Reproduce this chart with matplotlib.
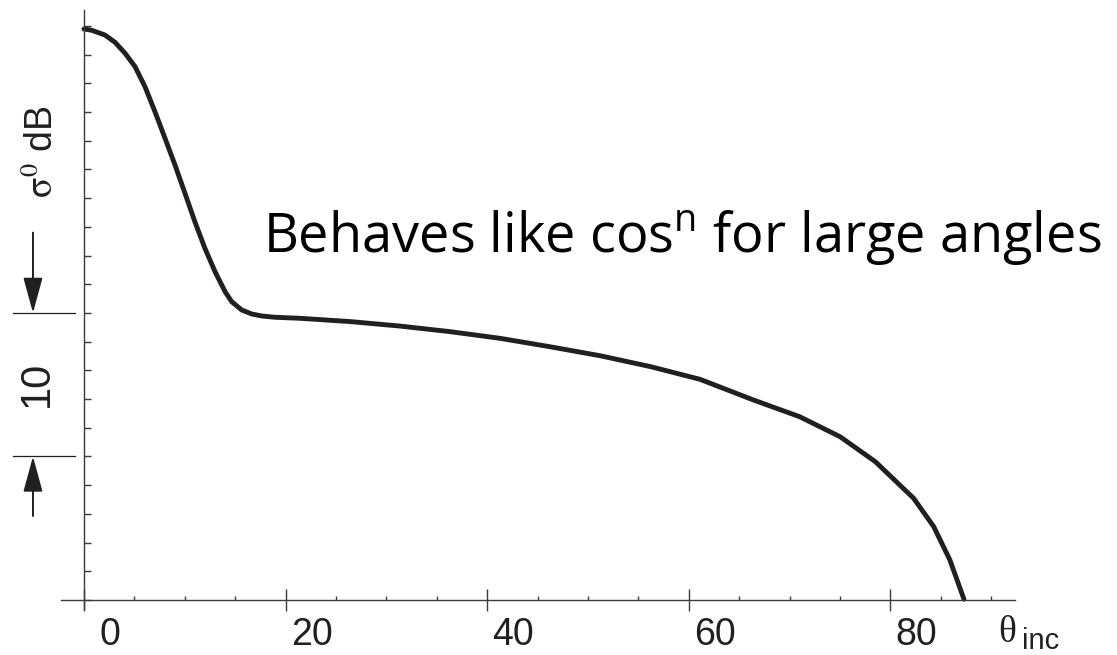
import numpy as np
import matplotlib
matplotlib.use('Agg')
import matplotlib.pyplot as plt
from matplotlib.ticker import MultipleLocator
from matplotlib.transforms import ScaledTranslation

# values (incidence angle in degrees, sigma0 in dB above axis)
theta = [0, 0.76, 2.08, 3.08, 4.07, 5.06, 6.05, 7.04, 8.04, 9.03, 10.02, 11.0, 12.0, 13.0,
         14.0, 14.65, 15.64, 16.64, 17.63, 18.95, 21.4, 26.4, 31.3, 36.3, 41.3, 46.2, 51.2,
         56.2, 61.1, 66.4, 71.0, 75.0, 78.5, 82.3, 84.3, 85.9, 87.3]
sigma_db = [39.79, 39.70, 39.37, 38.86, 38.10, 37.17, 35.77, 34.03, 32.17, 30.31, 28.34, 26.36,
            24.5, 22.88, 21.48, 20.79, 20.21, 19.93, 19.79, 19.70, 19.63, 19.40, 19.09, 18.70,
            18.23, 17.65, 17.02, 16.26, 15.38, 13.94, 12.77, 11.38, 9.64, 7.09, 5.11, 2.79, 0.05]
x_major = [0, 20, 40, 60, 80]
x_labels = ['0', '20', '40', '60', '80']
y_ticks = np.arange(0, 41, 2)
note = r'Behaves like cos$^{\mathrm{n}}$ for large angles'

ink = '#231f20'
axis_col = '#3a3a3a'

plt.rcParams['font.family'] = ['Liberation Sans', 'DejaVu Sans']
plt.rcParams['mathtext.fontset'] = 'custom'
plt.rcParams['mathtext.rm'] = 'Open Sans'

fig = plt.figure(figsize=(11.17, 6.55), dpi=100)
ax = fig.add_axes([0.05443, 0.06977, 0.8546, 0.9147])
ax.set_xlim(-2.3, 92.4)
ax.set_ylim(-0.65, 41.1)

ax.plot(theta, sigma_db, color=ink, lw=3.5, solid_capstyle='round', solid_joinstyle='round')

# axes through the origin
for s in ['top', 'right']:
    ax.spines[s].set_visible(False)
ax.spines['left'].set_position(('data', 0))
ax.spines['bottom'].set_position(('data', 0))
for s in ['left', 'bottom']:
    ax.spines[s].set_color(axis_col)
    ax.spines[s].set_linewidth(1.0)

ax.set_xticks(x_major)
ax.set_xticklabels(x_labels)
ax.xaxis.set_minor_locator(MultipleLocator(5))
ax.tick_params(axis='x', which='major', direction='inout', length=16, width=1.0,
               color=axis_col, labelsize=27, labelcolor=ink, pad=4)
ax.tick_params(axis='x', which='minor', direction='in', length=3, width=1.0, color=axis_col)
off = ScaledTranslation(0.26, 0, fig.dpi_scale_trans)
for lab in ax.get_xticklabels():
    lab.set_transform(lab.get_transform() + off)

ax.set_yticks(y_ticks)
ax.set_yticklabels([])
ax.tick_params(axis='y', direction='in', length=5, width=1.0, color=axis_col)

# 10 dB scale bar on the left
for yv in [20, 10]:
    ax.plot([-7.04, -0.9], [yv, yv], color=ink, lw=0.9, clip_on=False)
arrow = dict(arrowstyle='-|>,head_length=2.2,head_width=0.6', color=ink, lw=1.4,
             shrinkA=0, shrinkB=0, mutation_scale=10)
ax.annotate('', xy=(-5.06, 20.0), xytext=(-5.06, 25.6), arrowprops=arrow, annotation_clip=False)
ax.annotate('', xy=(-5.06, 10.0), xytext=(-5.06, 5.85), arrowprops=arrow, annotation_clip=False)
ax.text(-4.66, 15.05, '10', rotation=90, ha='center', va='center', fontsize=30, color=ink)
ax.text(-4.07, 31.2, r'$\mathrm{\sigma}^{0}$ dB', rotation=90, ha='center', va='center',
        fontsize=27, color=ink, math_fontfamily='stix')

# x-axis label
ax.text(90.67, -2.93, 'θ', fontsize=27, color=ink, family=['Liberation Serif', 'DejaVu Serif'],
        ha='left', va='baseline')
ax.text(93.06, -3.45, 'inc', fontsize=21, color=ink, ha='left', va='baseline')

ax.text(17.8, 24.27, note, fontsize=39, color='black', family=['Open Sans', 'DejaVu Sans'],
        ha='left', va='baseline', math_fontfamily='custom')

fig.savefig('out.png', dpi=100)
